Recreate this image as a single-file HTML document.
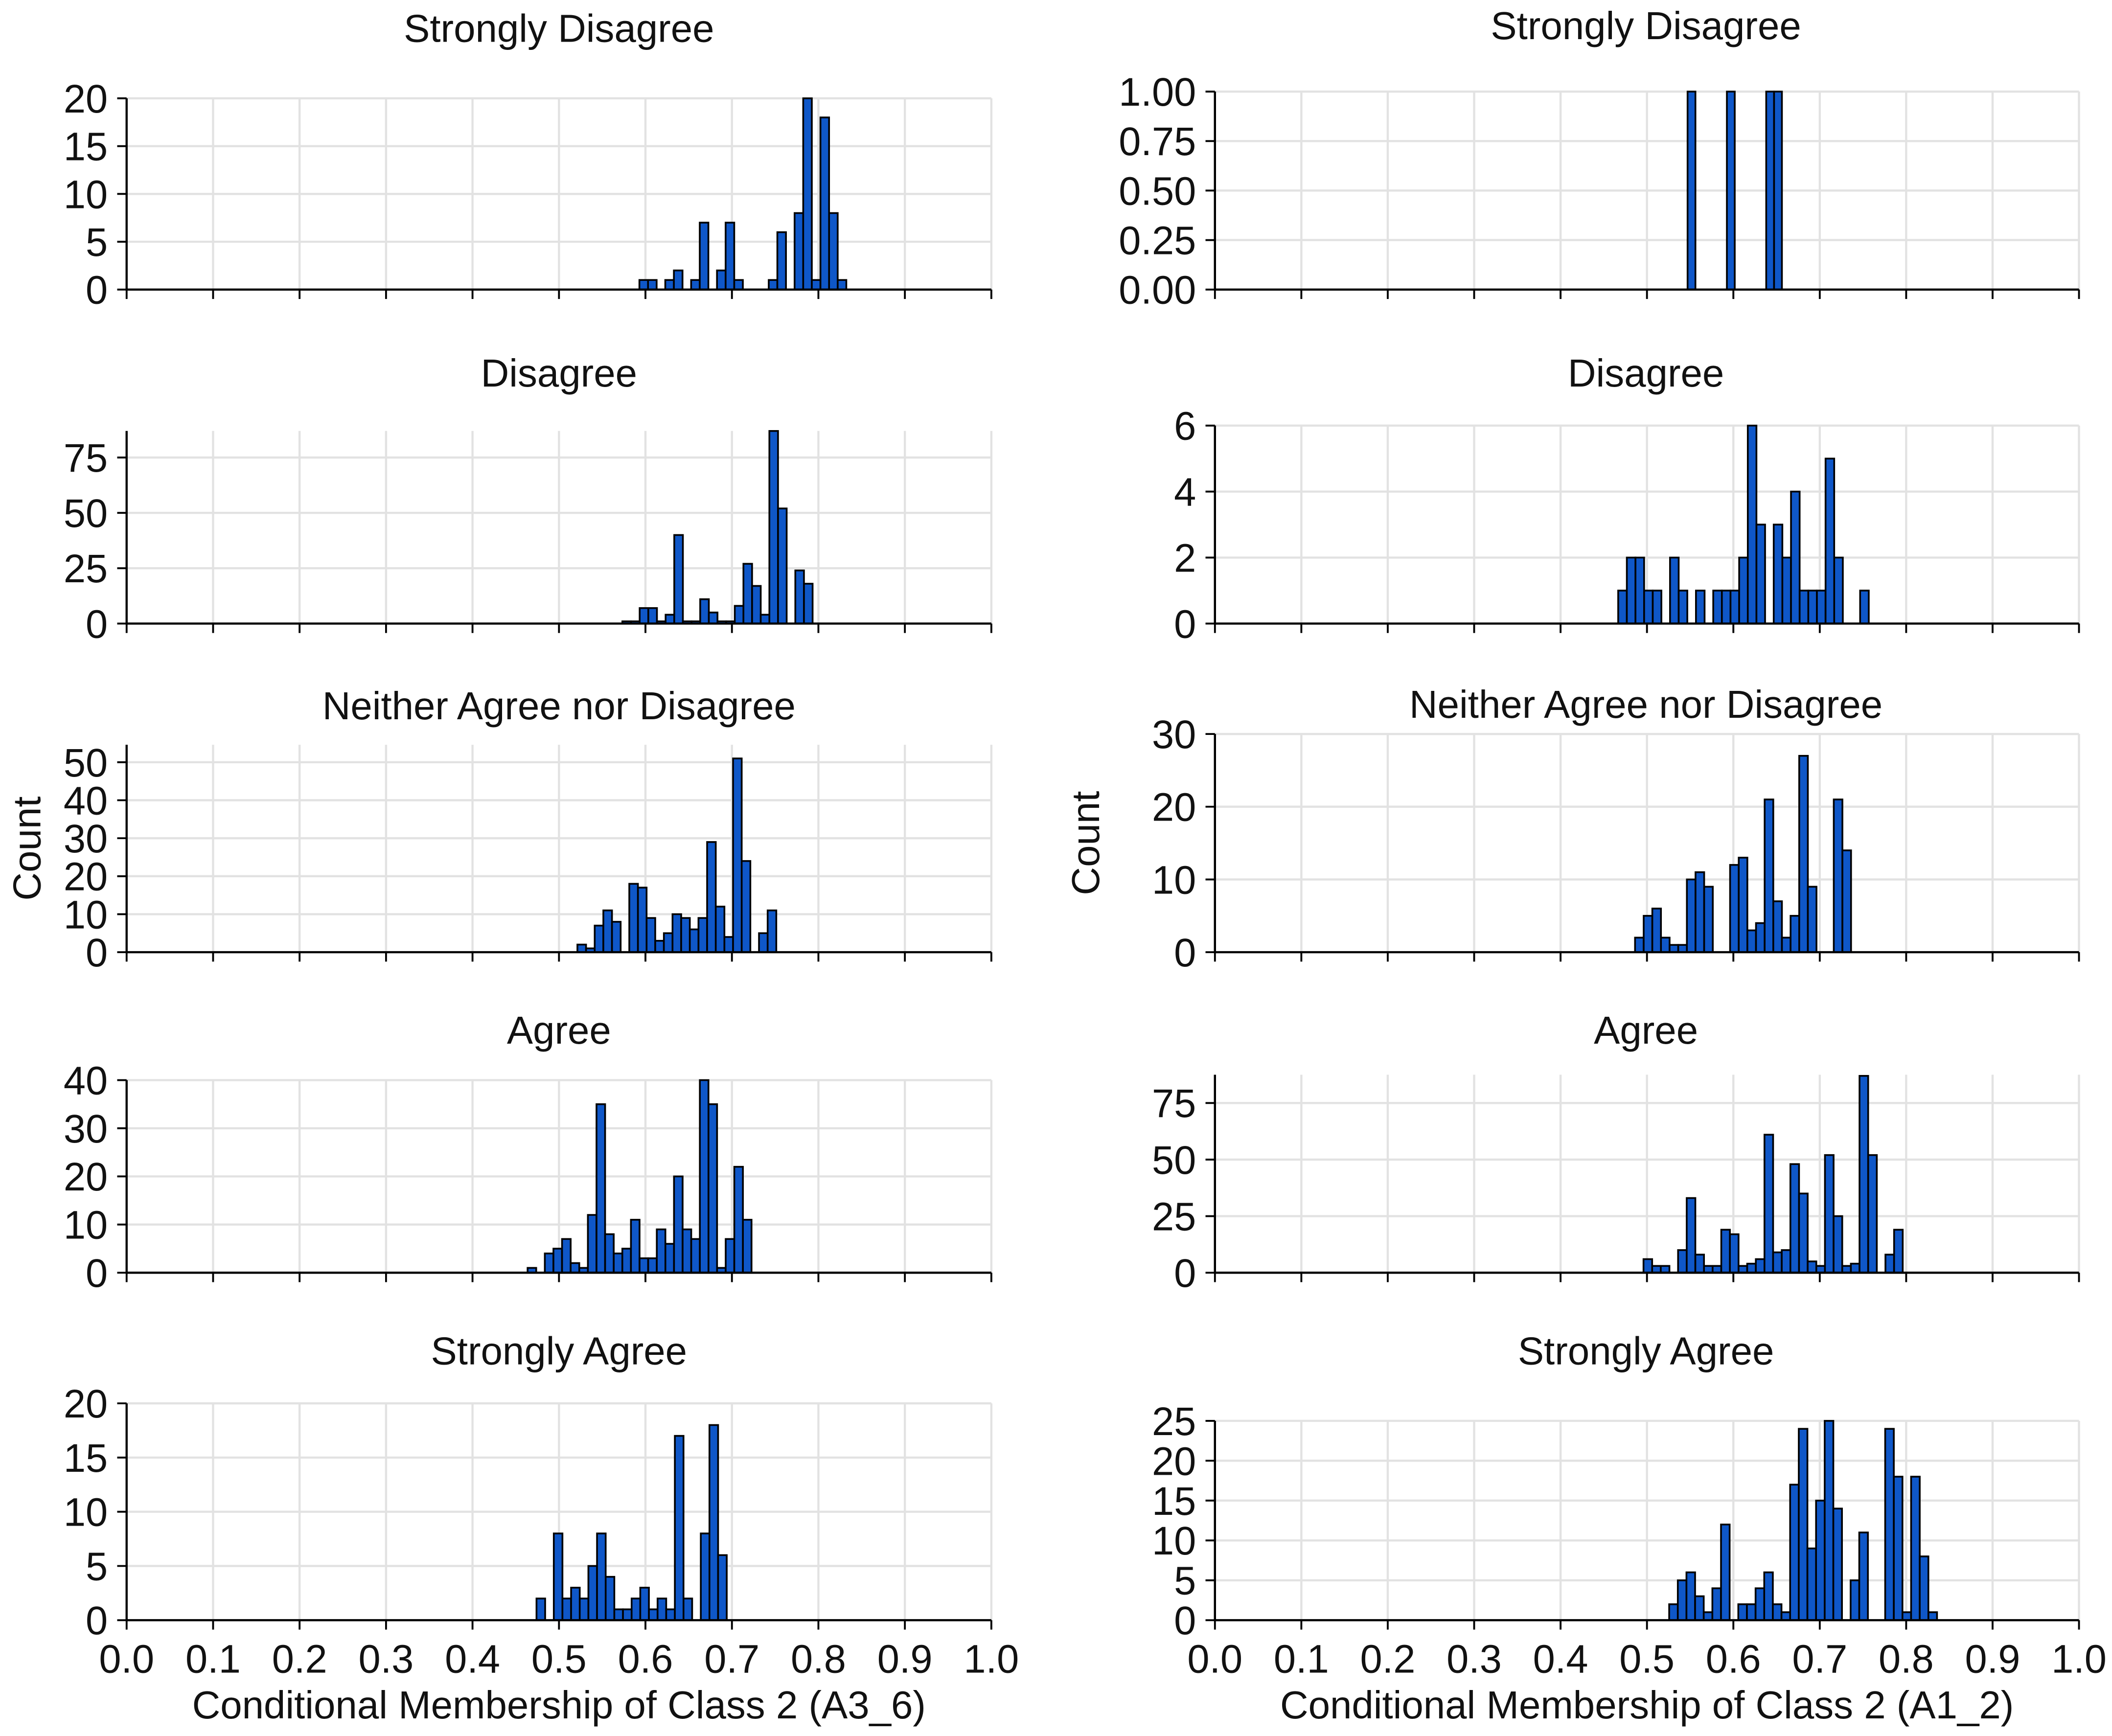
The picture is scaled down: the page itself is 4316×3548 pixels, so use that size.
<!DOCTYPE html>
<html>
<head>
<meta charset="utf-8">
<style>
html,body{margin:0;padding:0;background:#fff;}
svg{display:block;}
text{font-family:"Liberation Sans",sans-serif;fill:#111;}
</style>
</head>
<body>
<svg id="chart" width="4316" height="3548" viewBox="0 0 1568 1289" xmlns="http://www.w3.org/2000/svg"></svg>
<script>
// ---- data (counts per bin) ----
const xTicks = [0.0,0.1,0.2,0.3,0.4,0.5,0.6,0.7,0.8,0.9,1.0];
const titles = ["Strongly Disagree","Disagree","Neither Agree nor Disagree","Agree","Strongly Agree"];

const l1Counts = [1,1,0,1,2,0,1,7,0,2,7,1,0,0,0,1,6,0,8,20,1,18,8,1];
const l1Start = 0.593, l1Width = 0.00997;
const l2Counts = [1,1,7,7,1,4,40,1,1,11,5,1,1,8,27,17,4,87,52,0,24,18];
const l2Start = 0.5733, l2Width = 0.01;
const l3Counts = [2,1,7,11,8,0,18,17,9,3,5,10,9,6,9,29,12,4,51,24,0,5,11];
const l3Start = 0.5213, l3Width = 0.01;
const l4Counts = [1,0,4,5,7,2,1,12,35,8,4,5,11,3,3,9,6,20,9,7,40,35,1,7,22,11];
const l4Start = 0.4637, l4Width = 0.00996;
const l5Counts = [2,0,8,2,3,2,5,8,4,1,1,2,3,1,2,1,17,2,0,8,18,6];
const l5Start = 0.474, l5Width = 0.01;

const r1Counts = [1,0,0,0,0,1,0,0,0,0,1,1];
const r1Start = 0.547, r1Width = 0.0091;
const r2Counts = [1,2,2,1,1,0,2,1,0,1,0,1,1,1,2,6,3,0,3,2,4,1,1,1,5,2,0,0,1];
const r2Start = 0.4667, r2Width = 0.01;
const r3Counts = [2,5,6,2,1,1,10,11,9,0,0,12,13,3,4,21,7,2,5,27,9,0,0,21,14];
const r3Start = 0.4862, r3Width = 0.01;
const r4Counts = [6,3,3,0,10,33,8,3,3,19,17,3,4,6,61,9,10,48,35,5,3,52,25,3,4,87,52,0,8,19];
const r4Start = 0.496, r4Width = 0.01;
const r5Counts = [2,5,6,3,1,4,12,0,2,2,4,6,2,1,17,24,9,15,25,14,0,5,11,0,0,24,18,1,18,8,1];
const r5Start = 0.5257, r5Width = 0.01;

const l1Ticks=[0,5,10,15,20], l2Ticks=[0,25,50,75], l3Ticks=[0,10,20,30,40,50], l4Ticks=[0,10,20,30,40], l5Ticks=[0,5,10,15,20];
const r1Ticks=[0,0.25,0.5,0.75,1.0], r2Ticks=[0,2,4,6], r3Ticks=[0,10,20,30], r4Ticks=[0,25,50,75], r5Ticks=[0,5,10,15,20,25];
const yMaxes = {l1:20,l2:87,l3:54.6,l4:40,l5:20,r1:1,r2:6,r3:30,r4:87.5,r5:25};

// ---- layout ----
const NS="http://www.w3.org/2000/svg";
const svg=document.getElementById('chart');
function el(tag,attrs,parent){const e=document.createElementNS(NS,tag);for(const k in attrs)e.setAttribute(k,attrs[k]);(parent||svg).appendChild(e);return e;}

const cols={l:{x0:94,x1:736,cx:415,label:"Conditional Membership of Class 2 (A3_6)",ylab:18},
            r:{x0:902,x1:1543.5,cx:1222,label:"Conditional Membership of Class 2 (A1_2)",ylab:804}};
const rows=[{lt:73,rt:68,b:215,tl:31,tr:29},{lt:320,rt:316,b:463,tl:287,tr:287},{lt:553,rt:545,b:707,tl:534,tr:533},{lt:802,rt:798,b:945,tl:775,tr:775},{lt:1042,rt:1055,b:1203,tl:1013,tr:1013}];

const panels=[
 {id:'l1',c:'l',r:0,counts:l1Counts,start:l1Start,w:l1Width,ticks:l1Ticks},
 {id:'l2',c:'l',r:1,counts:l2Counts,start:l2Start,w:l2Width,ticks:l2Ticks},
 {id:'l3',c:'l',r:2,counts:l3Counts,start:l3Start,w:l3Width,ticks:l3Ticks},
 {id:'l4',c:'l',r:3,counts:l4Counts,start:l4Start,w:l4Width,ticks:l4Ticks},
 {id:'l5',c:'l',r:4,counts:l5Counts,start:l5Start,w:l5Width,ticks:l5Ticks},
 {id:'r1',c:'r',r:0,counts:r1Counts,start:r1Start,w:r1Width,ticks:r1Ticks,fmt:2},
 {id:'r2',c:'r',r:1,counts:r2Counts,start:r2Start,w:r2Width,ticks:r2Ticks},
 {id:'r3',c:'r',r:2,counts:r3Counts,start:r3Start,w:r3Width,ticks:r3Ticks},
 {id:'r4',c:'r',r:3,counts:r4Counts,start:r4Start,w:r4Width,ticks:r4Ticks},
 {id:'r5',c:'r',r:4,counts:r5Counts,start:r5Start,w:r5Width,ticks:r5Ticks}
];

panels.forEach(p=>{
  const col=cols[p.c], row=rows[p.r];
  const top = p.c==='l'?row.lt:row.rt, bot=row.b;
  const ymax=yMaxes[p.id];
  const xs=v=>col.x0+(col.x1-col.x0)*v;
  const ys=v=>bot-(bot-top)*v/ymax;
  const g=el('g',{});
  
  
  xTicks.forEach(t=>{
    const l=el('line',{x1:xs(t),x2:xs(t),y1:top,y2:bot,stroke:'#e2e2e2','stroke-width':1.6},g);
    
    
  });
  p.ticks.forEach(t=>{
    const l=el('line',{x1:col.x0,x2:col.x1,y1:ys(t),y2:ys(t),stroke:'#e2e2e2','stroke-width':1.6},g);
    
    
  });
  p.counts.forEach((c,i)=>{
    if(!c) return;
    const x=xs(p.start+i*p.w), x2=xs(p.start+(i+1)*p.w);
    const b=el('rect',{x:x,y:ys(c),width:x2-x,height:bot-ys(c),fill:'#0f57c8',stroke:'#000','stroke-width':1.3},g);
    
    
  });
  const sp=el('path',{d:`M${col.x0},${top}V${bot}H${col.x1}`,fill:'none',stroke:'#000','stroke-width':1.6},g);
  
  
  xTicks.forEach(t=>{
    const tk=el('line',{x1:xs(t),x2:xs(t),y1:bot,y2:bot+7,stroke:'#000','stroke-width':1.4},g);
    
    
    if(p.r===4){
      const tx=el('text',{x:xs(t),y:bot+39,'font-size':29.5,'text-anchor':'middle'},g);
      tx.textContent=t.toFixed(1);
      
      
    }
  });
  p.ticks.forEach(t=>{
    const tk=el('line',{x1:col.x0-7,x2:col.x0,y1:ys(t),y2:ys(t),stroke:'#000','stroke-width':1.4},g);
    
    
    const tx=el('text',{x:col.x0-14,y:ys(t)+10.5,'font-size':29.5,'text-anchor':'end'},g);
    tx.textContent=p.fmt?t.toFixed(p.fmt):String(t);
    
    
  });
  const tt=el('text',{x:col.cx,y:p.c==='l'?row.tl:row.tr,'font-size':29,'text-anchor':'middle'},g);
  tt.textContent=titles[p.r];
  
  
  if(p.r===4){
    const xl=el('text',{x:(col.x0+col.x1)/2,y:1276,'font-size':29,'text-anchor':'middle'},g);
    xl.textContent=col.label;
    
    
  }
  if(p.r===2){
    const yl=el('text',{x:0,y:0,'font-size':29,'text-anchor':'middle',transform:`translate(${col.ylab+12},${(top+bot)/2}) rotate(-90)`},g);
    yl.textContent='Count';
    
    
  }
});
</script>
</body>
</html>
